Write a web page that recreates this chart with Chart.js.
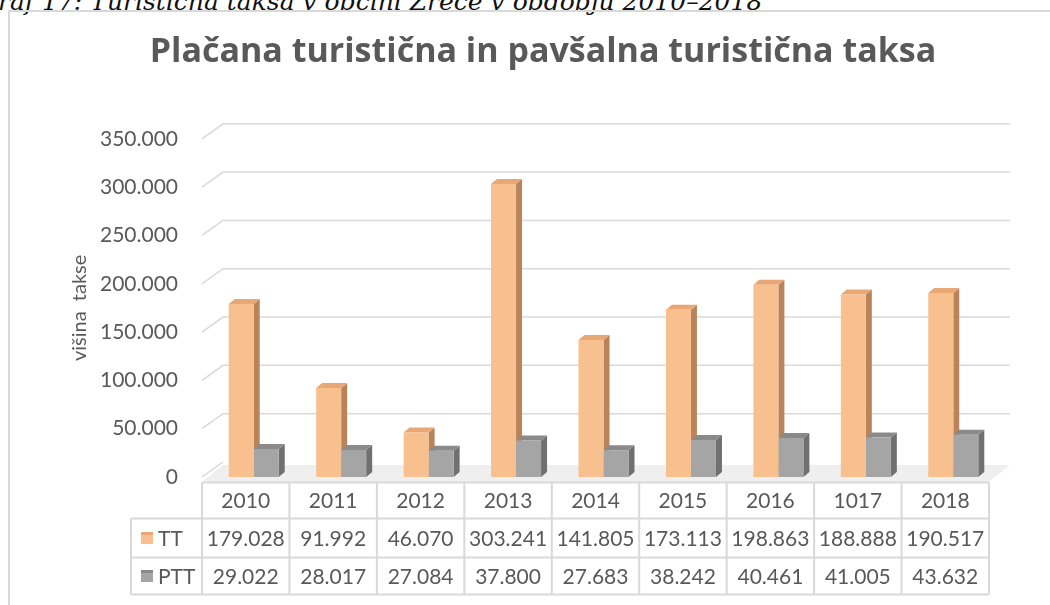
<!DOCTYPE html>
<html>
<head>
<meta charset="utf-8">
<script src="https://cdn.jsdelivr.net/npm/chart.js@4.4.0/dist/chart.umd.min.js"></script>
<style>
    html, body { margin: 0; padding: 0; background: #fff; }
    body { width: 1050px; height: 605px; position: relative; overflow: hidden; }
    #caption {
        position: absolute; left: -22px; top: -13px;
        font: italic 25px "DejaVu Serif", serif; white-space: nowrap; color: #111;
    }
    #frame {
        position: absolute; left: 8px; top: 10px; width: 1100px; height: 700px;
        border-left: 2px solid #d9d9d9; border-top: 2px solid #d9d9d9;
    }
    #chart { position: absolute; left: 0; top: 0; }
</style>
</head>
<body>
<div id="caption">Graf 17: Turistična taksa v občini Zreče v obdobju 2010–2018</div>
<div id="frame"></div>
<canvas id="chart" width="1050" height="605"></canvas>
<script>
// data
const years = ['2010', '2011', '2012', '2013', '2014', '2015', '2016', '1017', '2018'];
const ttValues = [179028, 91992, 46070, 303241, 141805, 173113, 198863, 188888, 190517];
const pttValues = [29022, 28017, 27084, 37800, 27683, 38242, 40461, 41005, 43632];
const seriesNames = ['TT', 'PTT'];
const yMax = 350000;
const yStep = 50000;

const TEXT = '#595959';
const GRID = '#d9d9d9';
const front = ['#f9c08f', '#a5a5a5'];
const side = ['#b9845a', '#707070'];
const top3d = ['#e8a774', '#8a8a8a'];

// 3d look
const BAR_DX = 6, BAR_DY = 5;
const WALL_DX = 21, WALL_DY = 15;
const SHIFT = 8; // table columns sit a bit left of the bars

function fmt(v) {
    return String(v).replace(/\B(?=(\d{3})+(?!\d))/g, '.');
}

function poly(ctx, pts, fill) {
    ctx.beginPath();
    ctx.moveTo(pts[0][0], pts[0][1]);
    for (let i = 1; i < pts.length; i++) ctx.lineTo(pts[i][0], pts[i][1]);
    ctx.closePath();
    ctx.fillStyle = fill;
    ctx.fill();
}

const wallsAndBars = {
    id: 'wallsAndBars',
    beforeDatasetsDraw(chart) {
        const { ctx, chartArea, scales: { y } } = chart;
        const left = chartArea.left - SHIFT;
        const right = chartArea.right - SHIFT;
        const y0 = y.getPixelForValue(0);

        ctx.save();
        // floor
        poly(ctx, [[left, y0 + 5], [right, y0 + 5], [right + WALL_DX, y0 - 12], [left + WALL_DX, y0 - 12]], '#efefef');

        // gridlines on back wall + left wall diagonals
        ctx.strokeStyle = GRID;
        ctx.lineWidth = 1.5;
        y.ticks.forEach(t => {
            const py = y.getPixelForValue(t.value);
            ctx.beginPath();
            ctx.moveTo(left, py);
            ctx.lineTo(left + WALL_DX, py - WALL_DY);
            if (t.value > 0) ctx.lineTo(right + WALL_DX, py - WALL_DY);
            ctx.stroke();
        });

        // side and top faces of bars
        chart.data.datasets.forEach((ds, di) => {
            chart.getDatasetMeta(di).data.forEach(bar => {
                const { x, y: top, base, width } = bar.getProps(['x', 'y', 'base', 'width'], true);
                const l = x - width / 2, r = x + width / 2;
                poly(ctx, [[r, top], [r + BAR_DX, top - BAR_DY], [r + BAR_DX, base - BAR_DY], [r, base]], side[di]);
                poly(ctx, [[l, top], [l + BAR_DX, top - BAR_DY], [r + BAR_DX, top - BAR_DY], [r, top]], top3d[di]);
            });
        });
        ctx.restore();
    },
    afterDraw(chart) {
        // data table under the plot
        const { ctx, chartArea, scales: { x, y } } = chart;
        const left = chartArea.left - SHIFT;
        const right = chartArea.right - SHIFT;
        const colW = (chartArea.right - chartArea.left) / years.length;
        const y0 = y.getPixelForValue(0);
        const rowTop = y0 + 5.5;
        const rows = [rowTop, rowTop + 36, rowTop + 75, rowTop + 112];
        const legendLeft = 131;

        ctx.save();
        ctx.strokeStyle = GRID;
        ctx.lineWidth = 2;
        ctx.beginPath();
        ctx.moveTo(left, rows[0]); ctx.lineTo(right, rows[0]);
        for (let r = 1; r < rows.length; r++) {
            ctx.moveTo(legendLeft, rows[r]); ctx.lineTo(right, rows[r]);
        }
        ctx.moveTo(legendLeft, rows[1]); ctx.lineTo(legendLeft, rows[3]);
        for (let i = 0; i <= years.length; i++) {
            const cx = left + i * colW;
            ctx.moveTo(cx, rows[0]); ctx.lineTo(cx, rows[3]);
        }
        ctx.stroke();

        ctx.fillStyle = TEXT;
        ctx.font = '21px Lato';
        ctx.textAlign = 'center';
        ctx.textBaseline = 'middle';
        const series = [ttValues, pttValues];
        years.forEach((yr, i) => {
            const cx = x.getPixelForValue(i) - SHIFT;
            ctx.fillText(yr, cx, (rows[0] + rows[1]) / 2 + 1);
            series.forEach((vals, s) => {
                ctx.fillText(fmt(vals[i]), cx, (rows[s + 1] + rows[s + 2]) / 2 + 1);
            });
        });

        // legend keys
        ctx.textAlign = 'left';
        seriesNames.forEach((name, s) => {
            const cy = (rows[s + 1] + rows[s + 2]) / 2;
            ctx.fillStyle = front[s];
            ctx.fillRect(141, cy - 6, 12, 12);
            ctx.fillStyle = top3d[s];
            ctx.fillRect(141, cy - 6, 12, 3);
            ctx.fillStyle = TEXT;
            ctx.fillText(name, 158, cy + 1);
        });
        ctx.restore();
    }
};

Chart.defaults.font.family = 'Lato';
Chart.defaults.color = TEXT;

new Chart(document.getElementById('chart'), {
    type: 'bar',
    data: {
        labels: years,
        datasets: [
            {
                label: seriesNames[0],
                data: ttValues,
                backgroundColor: front[0],
                categoryPercentage: 0.572,
                barPercentage: 1
            },
            {
                label: seriesNames[1],
                data: pttValues,
                backgroundColor: front[1],
                categoryPercentage: 0.572,
                barPercentage: 1
            }
        ]
    },
    options: {
        responsive: false,
        animation: false,
        layout: {
            padding: { top: 20, left: 36, right: 0, bottom: 128 }
        },
        plugins: {
            legend: { display: false },
            tooltip: { enabled: false },
            title: {
                display: true,
                text: 'Plačana turistična in pavšalna turistična taksa',
                color: TEXT,
                font: { family: 'Open Sans', size: 34, weight: 'bold' },
                padding: { top: 12, bottom: 66 }
            }
        },
        scales: {
            x: {
                display: false
            },
            y: {
                min: 0,
                max: yMax,
                grid: { display: false, drawTicks: false },
                border: { display: false },
                ticks: {
                    stepSize: yStep,
                    padding: 32,
                    font: { size: 21 },
                    color: TEXT,
                    callback: v => fmt(v)
                },
                title: {
                    display: true,
                    text: 'višina  takse',
                    color: TEXT,
                    font: { size: 20 },
                    padding: { top: 32, bottom: 0 }
                },
                afterFit(scale) {
                    scale.width = 174;
                }
            },
            // empty right axis, only reserves room right of the plot
            yRight: {
                position: 'right',
                grid: { display: false, drawTicks: false },
                border: { display: false },
                ticks: { display: false },
                afterFit(scale) {
                    scale.width = 53;
                }
            }
        }
    },
    plugins: [wallsAndBars]
});
</script>
</body>
</html>
